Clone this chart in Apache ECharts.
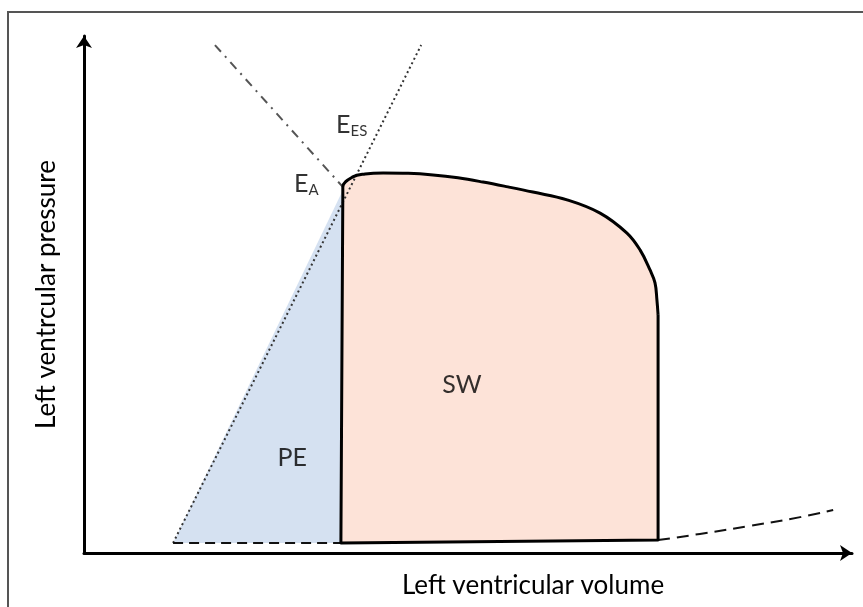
<!DOCTYPE html>
<html>
<head>
<meta charset="utf-8">
<script src="https://cdn.jsdelivr.net/npm/echarts@6/dist/echarts.min.js"></script>
<style>
  html, body { margin: 0; padding: 0; background: #fff; }
  #main { width: 863px; height: 607px; }
</style>
</head>
<body>
<div id="main"></div>
<script>
// 压力-容积环 (schematic units: volume 0-200, pressure 0-160)
var loopVolume   = [66.9, 67.4, 67.4, 70.0, 73.2, 77.9, 84.4, 90.9, 97.4, 103.9, 110.4, 116.9, 125.8, 134.4, 141.4, 144.8, 147.4, 148.7, 149.2, 149.5, 149.5, 66.9];
var loopPressure = [3.1, 110.8, 113.3, 116.4, 117.3, 117.6, 117.5, 117.0, 116.1, 114.8, 113.3, 111.7, 109.3, 105.2, 99.0, 93.8, 87.6, 83.6, 78.3, 73.7, 4.0, 3.1];

// end-systolic PV relation (E_ES)
var espvrVolume   = [23.2, 87.8];
var espvrPressure = [3.1, 157.2];

// arterial elastance line (E_A)
var eaVolume   = [34.1, 67.4];
var eaPressure = [157.2, 113.3];

// end-diastolic PV relation
var edpvrVolume   = [149.5, 160.4, 173.4, 186.5, 195.1];
var edpvrPressure = [4.0, 5.9, 8.4, 11.1, 13.3];

// V0 baseline
var baseVolume   = [23.2, 66.9];
var basePressure = [3.1, 3.1];

// potential energy triangle
var peVolume   = [23.2, 67.4, 66.9];
var pePressure = [3.1, 112.3, 3.1];

// text labels: [volume, pressure, text]
var notes = [
  [98.4, 52.0, 'SW'],
  [54.2, 29.4, 'PE'],
  [57.9, 114.2, '{e|E}{s|A}'],
  [69.7, 132.5, '{e|E}{s|ES}']
];

function pairs(xs, ys) {
  var out = [];
  for (var i = 0; i < xs.length; i++) out.push([xs[i], ys[i]]);
  return out;
}

var loopPts = pairs(loopVolume, loopPressure);
var curvePart = loopPts.slice(1, 20);
var straightPart = [loopPts[19], loopPts[20], loopPts[21], loopPts[1]];

function polygonSeries(pts, color) {
  return {
    type: 'custom',
    silent: true,
    z: 1,
    data: [0],
    renderItem: function (params, api) {
      var shapePts = pts.map(function (p) { return api.coord(p); });
      return { type: 'polygon', shape: { points: shapePts }, style: { fill: color, stroke: null } };
    }
  };
}

var txt = '#000';
var font = 'Lato, "Open Sans", sans-serif';

var myChart = echarts.init(document.getElementById('main'));
var option = {
  animation: false,
  backgroundColor: '#fff',
  graphic: [{
    type: 'rect', silent: true, z: -10,
    shape: { x: 8, y: 12, width: 900, height: 700 },
    style: { fill: 'none', stroke: '#555', lineWidth: 2 }
  }],
  grid: { left: 84, right: 11, top: 36, bottom: 54 },
  xAxis: {
    type: 'value', min: 0, max: 200,
    name: 'Left ventricular volume',
    nameLocation: 'middle', nameGap: 20,
    nameTextStyle: { fontFamily: font, fontSize: 26, color: txt, padding: [0, 0, 0, 130] },
    axisLine: { lineStyle: { color: '#000', width: 3 }, symbol: ['none', 'arrow'], symbolSize: [12, 12] },
    axisTick: { show: false }, axisLabel: { show: false }, splitLine: { show: false }
  },
  yAxis: {
    type: 'value', min: 0, max: 160,
    name: 'Left ventrcular pressure',
    nameLocation: 'middle', nameGap: 24,
    nameTextStyle: { fontFamily: font, fontSize: 26, color: txt },
    axisLine: { lineStyle: { color: '#000', width: 3 }, symbol: ['none', 'arrow'], symbolSize: [12, 12] },
    axisTick: { show: false }, axisLabel: { show: false }, splitLine: { show: false }
  },
  series: [
    polygonSeries(pairs(peVolume, pePressure), '#d5e1f1'),
    polygonSeries(loopPts, '#fde3d8'),
    {
      type: 'line', data: pairs(espvrVolume, espvrPressure), symbol: 'none', z: 3, silent: true,
      lineStyle: { color: '#333', width: 2, type: [2, 3] }
    },
    {
      type: 'line', data: pairs(eaVolume, eaPressure), symbol: 'none', z: 3, silent: true,
      lineStyle: { color: '#555', width: 2, type: [9, 6, 2, 6] }
    },
    {
      type: 'line', data: pairs(baseVolume, basePressure), symbol: 'none', z: 3, silent: true,
      lineStyle: { color: '#111', width: 2, type: [10, 6] }
    },
    {
      type: 'line', data: pairs(edpvrVolume, edpvrPressure), symbol: 'none', smooth: true, z: 3, silent: true,
      lineStyle: { color: '#111', width: 2, type: [12, 7] }
    },
    {
      type: 'line', data: curvePart, symbol: 'none', smooth: 0.4, z: 4, silent: true,
      lineStyle: { color: '#000', width: 3 }
    },
    {
      type: 'line', data: straightPart, symbol: 'none', z: 4, silent: true,
      lineStyle: { color: '#000', width: 3, join: 'round' }
    },
    {
      type: 'scatter', data: notes, symbolSize: 0, z: 5, silent: true,
      label: {
        show: true, position: 'inside', color: txt, fontFamily: font, fontSize: 25,
        formatter: function (p) { return p.data[2]; },
        rich: {
          e: { fontFamily: font, fontSize: 25, lineHeight: 28, color: txt },
          s: { fontFamily: font, fontSize: 15, lineHeight: 15, color: txt, verticalAlign: 'bottom' }
        }
      }
    }
  ]
};
myChart.setOption(option);
</script>
</body>
</html>
